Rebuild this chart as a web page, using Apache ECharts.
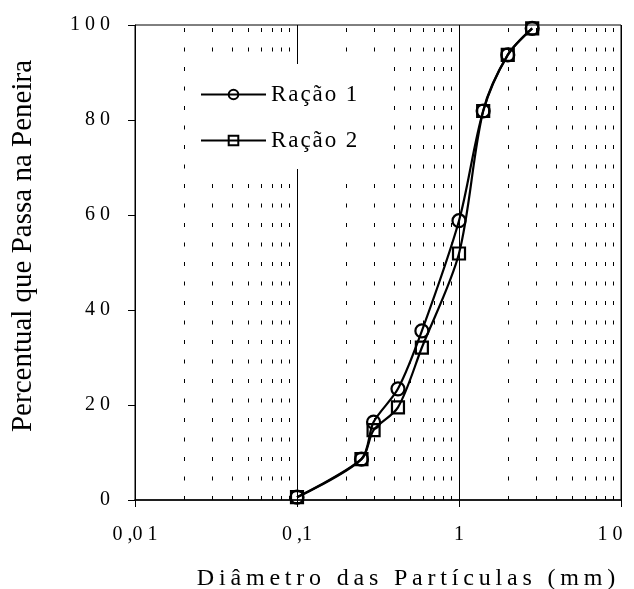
<!DOCTYPE html>
<html>
<head>
<meta charset="utf-8">
<script src="https://cdn.jsdelivr.net/npm/echarts@6/dist/echarts.min.js"></script>
<style>
  html, body { margin: 0; padding: 0; background: #fff; }
  #chart { width: 634px; height: 589px; }
</style>
</head>
<body>
<div id="chart"></div>
<script>
// diâmetro das peneiras (mm)
const diametros = [0.1, 0.25, 0.297, 0.42, 0.59, 1.0, 1.41, 2.0, 2.83]
const racao1 = [0.6, 8.6, 16.4, 23.4, 35.6, 58.8, 81.9, 93.7, 99.3]
const racao2 = [0.6, 8.6, 14.7, 19.5, 32.1, 51.9, 81.9, 93.7, 99.3]
const serieNomes = ['Ração 1', 'Ração 2']
const xTickLabels = ['0 ,0 1', '0 ,1', '1', '1 0']   // 0.01, 0.1, 1, 10
const yTickLabels = ['0', '2 0', '4 0', '6 0', '8 0', '1 0 0']

// linhas pontilhadas 2..9 de cada década
const gradeMenor = []
for (let d = 0.01; d < 10; d *= 10) {
  for (let k = 2; k <= 9; k++) gradeMenor.push({ xAxis: +(k * d).toPrecision(3) })
}

const fonte = 'Liberation Serif'
// espaçamento entre letras (thin space)
const espacar = s => s.split('').join('\u2009')

const chart = echarts.init(document.getElementById('chart'))
const pontos = ys => diametros.map((x, i) => [x, ys[i]])

chart.setOption({
  animation: false,
  grid: { left: 135, right: 13, top: 25, bottom: 89, show: true, borderColor: '#000', borderWidth: 1 },
  legend: {
    data: serieNomes,
    orient: 'vertical',
    left: 195,
    top: 64,
    z: 10,
    padding: [19, 19, 17, 5],
    itemGap: 23,
    itemWidth: 65,
    itemHeight: 12,
    backgroundColor: '#fff',
    itemStyle: { borderWidth: 2, borderColor: '#000' },
    lineStyle: { width: 2, color: '#000' },
    formatter: nome => nome.split('').join('\u200A'),
    textStyle: { fontFamily: fonte, fontSize: 23, color: '#000' }
  },
  xAxis: {
    type: 'log',
    logBase: 10,
    min: 0.01,
    max: 10,
    axisLine: { lineStyle: { color: '#000', width: 1.5 } },
    axisTick: { show: true, length: 7, lineStyle: { color: '#000' } },
    splitLine: { show: true, lineStyle: { color: '#000', width: 1 } },
    axisLabel: {
      margin: 25,
      fontFamily: fonte,
      fontSize: 20,
      color: '#000',
      formatter: function (v) {
        const i = Math.round(Math.log10(v)) + 2
        return i === 3 ? '{r|' + xTickLabels[i] + '}' : xTickLabels[i]
      },
      rich: { r: { fontFamily: fonte, fontSize: 20, color: '#000', padding: [0, 22, 0, 0] } }
    }
  },
  yAxis: {
    type: 'value',
    min: 0,
    max: 100,
    interval: 20,
    axisLine: { show: true, lineStyle: { color: '#000', width: 1 } },
    axisTick: { show: true, length: 7, lineStyle: { color: '#000' } },
    splitLine: { show: false },
    axisLabel: {
      margin: 25,
      fontFamily: fonte,
      fontSize: 20,
      color: '#000',
      formatter: v => yTickLabels[Math.round(v / 20)]
    }
  },
  graphic: [
    {
      type: 'text', x: 406, y: 579,
      style: { text: espacar('Diâmetro das Partículas (mm)'), font: '24px "Liberation Serif"', fill: '#000', textAlign: 'center', textVerticalAlign: 'middle' }
    },
    {
      type: 'text', x: 23, y: 246, rotation: Math.PI / 2,
      style: { text: 'Percentual que Passa na Peneira', font: '29px "Liberation Serif"', fill: '#000', textAlign: 'center', textVerticalAlign: 'middle' }
    }
  ],
  series: [
    {
      name: 'grade',
      type: 'line',
      data: [],
      z: 1,
      silent: true,
      markLine: {
        z: 1,
        silent: true,
        symbol: 'none',
        label: { show: false },
        lineStyle: { color: '#000', width: 1, type: [4, 15.5] },
        data: gradeMenor
      }
    },
    {
      name: serieNomes[0],
      type: 'line',
      data: pontos(racao1),
      smooth: 0.3,
      symbol: 'circle',
      symbolSize: 13,
      z: 4,
      lineStyle: { color: '#000', width: 2.2 },
      itemStyle: { color: 'rgba(255,255,255,0)', borderColor: '#000', borderWidth: 2.2 }
    },
    {
      name: serieNomes[1],
      type: 'line',
      data: pontos(racao2),
      smooth: 0.3,
      symbol: 'rect',
      symbolSize: 12,
      z: 3,
      lineStyle: { color: '#000', width: 2.2 },
      itemStyle: { color: 'rgba(255,255,255,0)', borderColor: '#000', borderWidth: 2.2 }
    }
  ]
})
</script>
</body>
</html>
